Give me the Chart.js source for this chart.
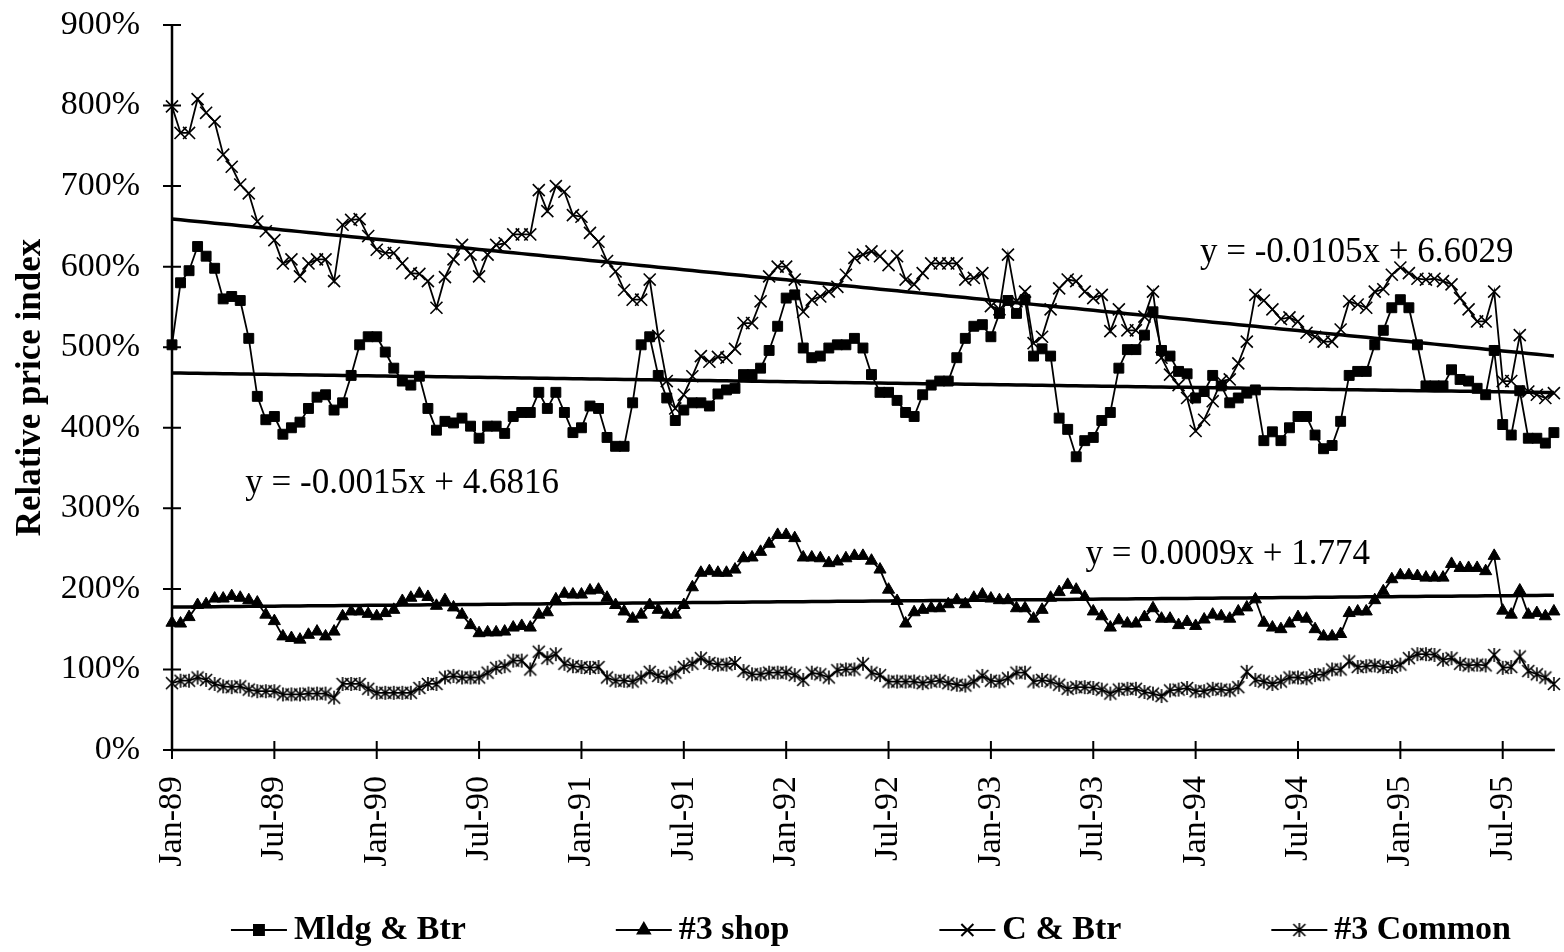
<!DOCTYPE html>
<html>
<head>
<meta charset="utf-8">
<title>Relative price index</title>
<script src="https://cdn.jsdelivr.net/npm/chart.js@4.4.1/dist/chart.umd.min.js"></script>
<style>
  html, body { margin: 0; padding: 0; background: #fff; }
  #wrap { width: 1564px; height: 952px; }
</style>
</head>
<body>
<div id="wrap"><canvas id="priceChart" width="1564" height="952"></canvas></div>
<script>
// Semi-monthly observations, Jan-89 through Oct-95 (values in %)
const monthNames = ['Jan', 'Feb', 'Mar', 'Apr', 'May', 'Jun', 'Jul', 'Aug', 'Sep', 'Oct', 'Nov', 'Dec'];
const periods = [];
for (let i = 0; i < 163; i++) {
  const m = Math.floor(i / 2);
  periods.push(monthNames[m % 12] + '-' + (89 + Math.floor(m / 12)));
}

const mldgBtr = [
  503, 580, 595, 625, 613, 598, 560, 563, 558, 511, 439, 410, 414, 392, 400, 407, 424, 438, 441, 422,
  431, 465, 503, 513, 513, 494, 474, 458, 453, 464, 424, 397, 408, 406, 412, 402, 387, 402, 402, 393,
  414, 419, 419, 444, 424, 444, 419, 394, 400, 427, 424, 388, 377, 377, 431, 503, 513, 465, 437, 409,
  422, 431, 431, 427, 442, 447, 449, 466, 466, 474, 496, 526, 561, 565, 499, 487, 489, 499, 503, 503,
  511, 499, 466, 444, 444, 434, 419, 414, 441, 453, 458, 458, 487, 511, 526, 528, 513, 542, 558, 542,
  559, 489, 498, 489, 412, 398, 364, 384, 388, 409, 419, 474, 497, 497, 515, 544, 496, 489, 470, 467,
  437, 445, 465, 452, 431, 437, 443, 447, 384, 395, 384, 400, 414, 414, 391, 374, 378, 408, 465, 470,
  470, 503, 521, 549, 559, 549, 503, 452, 452, 452, 472, 460, 458, 449, 441, 496, 404, 391, 446, 387,
  387, 381, 394
];

const shop3 = [
  158, 157, 165, 180, 181, 188, 188, 191, 189, 186, 183, 168, 160, 141, 139, 137, 143, 147, 141, 147,
  166, 172, 172, 169, 166, 170, 174, 185, 189, 194, 190, 179, 186, 177, 168, 155, 145, 146, 146, 147,
  152, 154, 152, 168, 171, 187, 194, 193, 193, 198, 199, 189, 180, 172, 163, 168, 180, 174, 168, 168,
  180, 202, 220, 222, 220, 220, 224, 238, 239, 246, 256, 267, 267, 263, 239, 239, 238, 232, 234, 238,
  241, 241, 235, 224, 199, 185, 157, 171, 174, 176, 176, 181, 186, 181, 189, 193, 188, 186, 186, 176,
  176, 163, 174, 189, 196, 205, 199, 190, 172, 166, 152, 161, 157, 157, 165, 176, 163, 163, 155, 159,
  154, 162, 168, 166, 163, 172, 177, 187, 158, 152, 150, 157, 165, 163, 150, 141, 141, 144, 170, 172,
  172, 186, 197, 212, 217, 217, 216, 214, 214, 214, 231, 226, 226, 226, 222, 241, 173, 168, 198, 168,
  170, 166, 172
];

const cBtr = [
  799, 766, 766, 808, 791, 780, 739, 724, 702, 691, 656, 644, 633, 604, 609, 588, 604, 609, 609, 582,
  652, 658, 659, 638, 621, 617, 617, 604, 592, 591, 582, 549, 587, 609, 627, 615, 588, 615, 627, 629,
  640, 640, 640, 695, 669, 700, 693, 664, 662, 642, 631, 607, 594, 571, 559, 559, 584, 514, 458, 424,
  441, 464, 489, 482, 488, 487, 498, 530, 530, 557, 588, 600, 600, 584, 544, 559, 563, 569, 575, 590,
  611, 615, 619, 613, 602, 613, 584, 578, 592, 604, 604, 604, 604, 584, 586, 592, 551, 547, 615, 557,
  569, 505, 513, 547, 573, 584, 582, 569, 561, 565, 520, 547, 521, 521, 538, 569, 487, 466, 453, 437,
  396, 410, 433, 458, 460, 480, 507, 565, 558, 547, 535, 537, 532, 518, 513, 507, 507, 522, 557, 553,
  549, 569, 572, 590, 599, 592, 585, 584, 585, 582, 578, 561, 547, 532, 532, 569, 458, 458, 515, 445,
  441, 437, 443
];

const common3 = [
  83, 86, 86, 90, 87, 82, 79, 78, 79, 75, 73, 73, 73, 69, 69, 69, 70, 70, 70, 65,
  82, 82, 82, 76, 71, 71, 71, 71, 71, 77, 82, 82, 90, 92, 90, 90, 90, 96, 102, 104,
  111, 111, 100, 122, 114, 119, 107, 104, 103, 102, 103, 90, 86, 86, 85, 90, 97, 92, 90, 96,
  103, 107, 114, 108, 106, 106, 108, 98, 94, 94, 96, 96, 96, 93, 87, 96, 94, 90, 99, 100,
  100, 107, 96, 93, 85, 85, 85, 85, 83, 85, 86, 83, 81, 80, 85, 92, 86, 85, 89, 96,
  96, 85, 87, 85, 81, 76, 78, 78, 77, 75, 70, 75, 76, 76, 72, 70, 67, 74, 75, 77,
  73, 73, 76, 75, 74, 78, 97, 87, 85, 82, 85, 90, 90, 89, 93, 94, 100, 100, 110, 103,
  104, 105, 103, 103, 106, 114, 119, 119, 118, 112, 114, 107, 105, 106, 105, 118, 102, 103, 116, 98,
  94, 90, 82
];

// Linear trend coefficients [slope, intercept], x = 1..n, y as a ratio
const mldgFit = [-0.0015, 4.6816];
const shopFit = [0.0009, 1.774];
const cBtrFit = [-0.0105, 6.6029];

const serif = '"Liberation Serif", "Times New Roman", serif';
Chart.defaults.font.family = serif;
Chart.defaults.color = '#000';

// Excel-style asterisk marker: an X crossed by a vertical bar
function asteriskMarker() {
  const c = document.createElement('canvas');
  c.width = 16; c.height = 16;
  const g = c.getContext('2d');
  g.strokeStyle = '#000';
  g.lineWidth = 1.6;
  g.beginPath();
  g.moveTo(2, 2); g.lineTo(14, 14);
  g.moveTo(14, 2); g.lineTo(2, 14);
  g.moveTo(8, 1); g.lineTo(8, 15);
  g.stroke();
  return c;
}

function series(label, data, style, radius, borderWidth) {
  return {
    label, data,
    borderColor: '#000', borderWidth: 1.8, backgroundColor: '#000',
    pointStyle: style, pointRadius: radius, pointHoverRadius: radius,
    pointBorderWidth: borderWidth, pointBackgroundColor: '#000', pointBorderColor: '#000',
    tension: 0, clip: false, order: 2
  };
}

function trend(fit, labelAt) {
  return {
    label: 'trend', isTrend: true,
    data: periods.map((p, i) => (fit[0] * (i + 1) + fit[1]) * 100),
    fitText: 'y = ' + fit[0] + 'x + ' + fit[1],
    labelAt,
    borderColor: '#000', borderWidth: 3.5, pointRadius: 0, tension: 0, order: 1
  };
}

// axis lines with tick marks crossing them
const axisFrame = {
  id: 'axisFrame',
  beforeDatasetsDraw(chart) {
    const { ctx, chartArea: a, scales: { x, y } } = chart;
    ctx.save();
    ctx.strokeStyle = '#000';
    ctx.lineWidth = 2.5;
    ctx.beginPath();
    ctx.moveTo(a.left, a.top);
    ctx.lineTo(a.left, a.bottom);
    ctx.lineTo(a.right + 1, a.bottom);
    ctx.stroke();
    ctx.lineWidth = 2;
    ctx.beginPath();
    y.ticks.forEach(t => {
      const py = y.getPixelForValue(t.value);
      ctx.moveTo(a.left - 9, py); ctx.lineTo(a.left + 9, py);
    });
    x.ticks.forEach(t => {
      const px = x.getPixelForValue(t.value);
      ctx.moveTo(px, a.bottom - 9); ctx.lineTo(px, a.bottom + 9);
    });
    ctx.stroke();
    ctx.restore();
  }
};

// trend equations placed in data coordinates
const fitLabels = {
  id: 'fitLabels',
  afterDatasetsDraw(chart) {
    const { ctx, scales: { x, y } } = chart;
    ctx.save();
    ctx.fillStyle = '#000';
    ctx.font = '35px ' + serif;
    ctx.textBaseline = 'middle';
    ctx.textAlign = 'left';
    chart.data.datasets.filter(d => d.isTrend).forEach(d => {
      ctx.fillText(d.fitText, x.getPixelForValue(d.labelAt[0]), y.getPixelForValue(d.labelAt[1]));
    });
    ctx.restore();
  }
};

// legend row: line + marker + bold label
const bottomLegend = {
  id: 'bottomLegend',
  afterDraw(chart) {
    const { ctx, chartArea: a } = chart;
    const items = chart.data.datasets.filter(d => !d.isTrend);
    ctx.save();
    ctx.font = 'bold 34px ' + serif;
    const iconW = 56, gap = 7, sep = 150;
    const widths = items.map(d => iconW + gap + ctx.measureText(d.label).width);
    const total = widths.reduce((s, w) => s + w, 0) + sep * (items.length - 1);
    let x = (a.left + a.right) / 2 + 8 - total / 2;
    const yMid = chart.height - 22;
    items.forEach((d, k) => {
      ctx.strokeStyle = '#000';
      ctx.fillStyle = '#000';
      ctx.lineWidth = 2;
      ctx.beginPath();
      ctx.moveTo(x, yMid); ctx.lineTo(x + iconW, yMid);
      ctx.stroke();
      Chart.helpers.drawPoint(ctx, {
        pointStyle: d.pointStyle, radius: d.pointRadius,
        borderWidth: d.pointBorderWidth, rotation: 0
      }, x + iconW / 2, yMid);
      ctx.textBaseline = 'middle';
      ctx.textAlign = 'left';
      ctx.fillText(d.label, x + iconW + gap, yMid);
      x += widths[k] + sep;
    });
    ctx.restore();
  }
};

new Chart(document.getElementById('priceChart'), {
  type: 'line',
  data: {
    labels: periods,
    datasets: [
      series('Mldg & Btr', mldgBtr, 'rect', 7, 1),
      series('#3 shop', shop3, 'triangle', 7, 1),
      series('C & Btr', cBtr, 'crossRot', 8.5, 1.6),
      series('#3 Common', common3, asteriskMarker(), 7, 1),
      trend(mldgFit, [8.6, 331]),
      trend(shopFit, [107.1, 242]),
      trend(cBtrFit, [120.5, 617])
    ]
  },
  options: {
    responsive: false,
    animation: false,
    devicePixelRatio: 1,
    layout: { padding: { top: 25, right: 10, bottom: 0, left: 0 } },
    plugins: { legend: { display: false }, tooltip: { enabled: false } },
    scales: {
      x: {
        type: 'category',
        offset: false,
        grid: { display: false },
        border: { display: false },
        afterBuildTicks: s => { s.ticks = s.ticks.filter(t => t.value % 12 === 0); },
        afterFit: s => { s.height = 202; },
        ticks: { autoSkip: false, minRotation: 90, maxRotation: 90, padding: 18, font: { size: 34 } }
      },
      y: {
        min: 0, max: 900,
        grid: { display: false },
        border: { display: false },
        afterFit: s => { s.width = 172; s.paddingTop = 0; s.paddingBottom = 0; },
        ticks: { stepSize: 100, padding: 24, font: { size: 34 }, callback: v => v + '%' },
        title: {
          display: true, text: 'Relative price index',
          font: { size: 35, weight: 'bold' }, padding: { top: 10, bottom: 0 }
        }
      }
    }
  },
  plugins: [axisFrame, fitLabels, bottomLegend]
});
</script>
</body>
</html>
